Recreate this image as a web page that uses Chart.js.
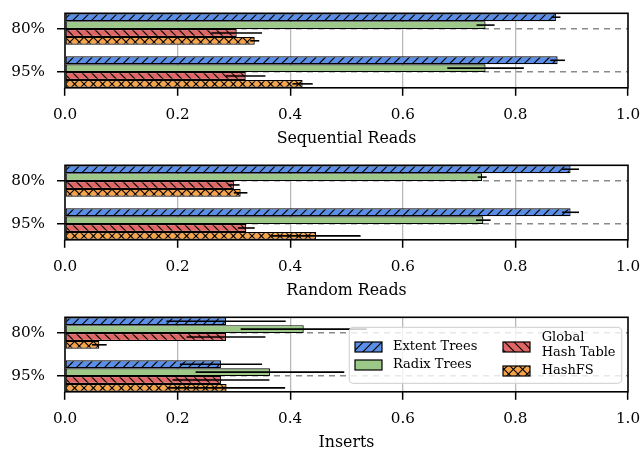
<!DOCTYPE html>
<html><head><meta charset="utf-8">
<script src="https://cdn.jsdelivr.net/npm/chart.js@4"></script>
<style>
html,body{margin:0;padding:0;background:#fff;overflow:hidden;width:642px;height:451px;}
.p{position:absolute;left:0;width:642px;height:152px;}
</style></head><body>
<div class="p" style="top:0px"><canvas id="c0"></canvas></div>
<div class="p" style="top:152px"><canvas id="c1"></canvas></div>
<div class="p" style="top:304px"><canvas id="c2"></canvas></div>
<script>
// ---------- data ----------
const categories = ['80%', '95%'];
const seriesNames = ['Extent Trees', 'Radix Trees', 'Global Hash Table', 'HashFS'];
const legendLabels = [['Extent Trees'], ['Radix Trees'], ['Global', 'Hash Table'], ['HashFS']];
const xTickValues = [0, 0.2, 0.4, 0.6, 0.8, 1.0];
const panelTitles = ['Sequential Reads', 'Random Reads', 'Inserts'];

// Sequential Reads
const seqExtent = [0.872, 0.875];
const seqExtentErr = [0.008, 0.013];
const seqRadix = [0.747, 0.747];
const seqRadixErr = [0.016, 0.068];
const seqGlobal = [0.305, 0.321];
const seqGlobalErr = [0.045, 0.035];
const seqHashFS = [0.337, 0.422];
const seqHashFSErr = [0.008, 0.018];

// Random Reads
const rndExtent = [0.898, 0.898];
const rndExtentErr = [0.015, 0.015];
const rndRadix = [0.741, 0.743];
const rndRadixErr = [0.008, 0.013];
const rndGlobal = [0.300, 0.322];
const rndGlobalErr = [0.010, 0.015];
const rndHashFS = [0.312, 0.446];
const rndHashFSErr = [0.012, 0.079];

// Inserts
const insExtent = [0.286, 0.277];
const insExtentErr = [0.106, 0.073];
const insRadix = [0.424, 0.364];
const insRadixErr = [0.112, 0.132];
const insGlobal = [0.286, 0.277];
const insGlobalErr = [0.070, 0.086];
const insHashFS = [0.061, 0.287];
const insHashFSErr = [0.013, 0.104];

// ---------- styles ----------
const colors = ['#5b8ee6', '#9cc987', '#e06565', '#f5a44b'];
const hatches = ['/', '', '\\', 'x'];
const FONT = 'DejaVu Serif';

function makePattern(color, kind) {
  const s = 28, n = 3, d = s / n;
  const c = document.createElement('canvas');
  c.width = s; c.height = s;
  const g = c.getContext('2d');
  g.fillStyle = color; g.fillRect(0, 0, s, s);
  if (kind) {
    g.strokeStyle = '#000'; g.lineWidth = 1.1;
    const drawSet = (dir) => {
      for (let k = -n; k <= 2 * n; k++) {
        const o = k * d;
        g.beginPath();
        if (dir > 0) { g.moveTo(o, s); g.lineTo(o + s, 0); }
        else { g.moveTo(o, 0); g.lineTo(o + s, s); }
        g.stroke();
      }
    };
    if (kind === '/' || kind === 'x') drawSet(1);
    if (kind === '\\' || kind === 'x') drawSet(-1);
  }
  return g.createPattern(c, 'repeat');
}
const patterns = colors.map((c, i) => makePattern(c, hatches[i]));

const panels = [
  { vals: [seqExtent, seqRadix, seqGlobal, seqHashFS], errs: [seqExtentErr, seqRadixErr, seqGlobalErr, seqHashFSErr] },
  { vals: [rndExtent, rndRadix, rndGlobal, rndHashFS], errs: [rndExtentErr, rndRadixErr, rndGlobalErr, rndHashFSErr] },
  { vals: [insExtent, insRadix, insGlobal, insHashFS], errs: [insExtentErr, insRadixErr, insGlobalErr, insHashFSErr], legend: true }
];

const errorBarPlugin = {
  id: 'errorBars',
  afterDatasetsDraw(chart) {
    const ctx = chart.ctx, xs = chart.scales.x;
    ctx.save();
    ctx.strokeStyle = '#000'; ctx.lineWidth = 1.6;
    chart.data.datasets.forEach((ds, i) => {
      const meta = chart.getDatasetMeta(i);
      meta.data.forEach((el, j) => {
        const v = ds.data[j].x, e = ds.errors[j];
        ctx.beginPath();
        ctx.moveTo(xs.getPixelForValue(v - e), el.y);
        ctx.lineTo(xs.getPixelForValue(v + e), el.y);
        ctx.stroke();
      });
    });
    const a = chart.chartArea;
    ctx.strokeStyle = '#000'; ctx.lineWidth = 1.6;
    ctx.strokeRect(a.left, a.top, a.right - a.left, a.bottom - a.top);
    ctx.restore();
  }
};

const legendPlugin = {
  id: 'customLegend',
  afterDraw(chart) {
    if (!chart.options.plugins.customLegend || !chart.options.plugins.customLegend.show) return;
    const ctx = chart.ctx, a = chart.chartArea;
    const W = 272.4, H = 56;
    const Lx = a.right - 6.3 - W, Ly = a.top + 10;
    ctx.save();
    ctx.beginPath();
    ctx.roundRect(Lx, Ly, W, H, 4);
    ctx.fillStyle = 'rgba(255,255,255,0.8)';
    ctx.fill();
    ctx.strokeStyle = 'rgba(204,204,204,0.8)';
    ctx.lineWidth = 1.2;
    ctx.stroke();
    const items = [
      { px: 5.7, tx: 43.7, cy: 19.7, lines: [19.7] },
      { px: 5.7, tx: 43.7, cy: 37.7, lines: [37.7] },
      { px: 153.7, tx: 192.4, cy: 19.7, lines: [10.2, 25.4] },
      { px: 153.7, tx: 192.4, cy: 43.7, lines: [43.7] }
    ];
    ctx.font = '13px "' + FONT + '"';
    ctx.textBaseline = 'middle';
    ctx.textAlign = 'left';
    items.forEach((it, i) => {
      const px = Lx + it.px, py = Ly + it.cy - 5;
      ctx.fillStyle = patterns[i];
      ctx.fillRect(px, py, 27, 10);
      ctx.strokeStyle = '#000'; ctx.lineWidth = 1.2;
      ctx.strokeRect(px, py, 27, 10);
      ctx.fillStyle = '#000';
      legendLabels[i].forEach((t, k) => ctx.fillText(t, Lx + it.tx, Ly + it.lines[k]));
    });
    ctx.restore();
  }
};

panels.forEach((p, pi) => {
  const datasets = seriesNames.map((name, si) => ({
    label: name,
    data: categories.map((c, ci) => ({ x: p.vals[si][ci], y: ci })),
    errors: p.errs[si],
    backgroundColor: patterns[si],
    borderColor: '#000',
    borderWidth: 1.2,
    borderSkipped: false,
    categoryPercentage: 0.73,
    barPercentage: 1.0
  }));
  new Chart(document.getElementById('c' + pi), {
    type: 'bar',
    data: { datasets },
    plugins: [errorBarPlugin, legendPlugin],
    options: {
      indexAxis: 'y',
      responsive: true,
      maintainAspectRatio: false,
      animation: false,
      devicePixelRatio: 1,
      layout: { padding: { top: 13.3, right: 14, left: 0, bottom: 3.2 } },
      plugins: { legend: { display: false }, tooltip: { enabled: false }, customLegend: { show: !!p.legend } },
      scales: {
        y: {
          type: 'linear', reverse: true, min: -0.365, max: 1.365, offset: false,
          afterBuildTicks: s => { s.ticks = categories.map((c, i) => ({ value: i })); },
          afterFit: s => { s.width = 65; s.paddingTop = 0; s.paddingBottom = 0; },
          ticks: { callback: (v, i) => categories[i], font: { family: FONT, size: 15.2 }, color: '#000', padding: 12 },
          grid: { offset: false, color: '#8a8a8a', lineWidth: 1.5, drawTicks: true, tickLength: 8, tickColor: '#000', tickWidth: 1.5, tickBorderDash: [] },
          border: { display: false, dash: [6, 5] }
        },
        x: {
          type: 'linear', min: 0, max: 1, offset: false,
          afterBuildTicks: s => { s.ticks = xTickValues.map(v => ({ value: v })); },
          afterFit: s => { s.height = 61; s.paddingLeft = 0; s.paddingRight = 0; },
          ticks: { callback: v => Number(v).toFixed(1), font: { family: FONT, size: 15.2 }, color: '#000', padding: 10, maxRotation: 0 },
          grid: {
            offset: false,
            color: c => (c.tick && (c.tick.value === 0 || c.tick.value === 1)) ? 'rgba(0,0,0,0)' : '#b8b8b8',
            lineWidth: 1.3, tickLength: 8, tickColor: '#000', tickWidth: 1.5
          },
          title: { display: true, text: panelTitles[pi], font: { family: FONT, size: 15.8 }, color: '#000', padding: { top: 0, bottom: 0 } },
          border: { display: false }
        }
      }
    }
  });
});
</script>
</body></html>
